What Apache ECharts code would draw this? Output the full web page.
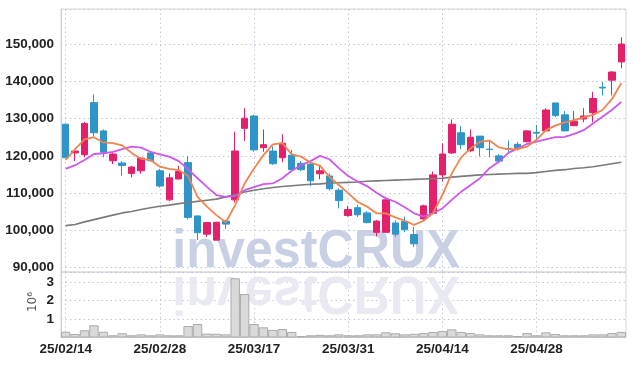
<!DOCTYPE html>
<html><head><meta charset="utf-8">
<script src="https://cdn.jsdelivr.net/npm/echarts@6/dist/echarts.min.js"></script>
<style>html,body{margin:0;padding:0;background:#fff}#c{width:634px;height:366px}</style>
</head><body><div id="c"></div>
<script>
const dates = ['25/02/14','25/02/17','25/02/18','25/02/19','25/02/20','25/02/21','25/02/24','25/02/25','25/02/26','25/02/27',
'25/02/28','25/03/04','25/03/05','25/03/06','25/03/07','25/03/10','25/03/11','25/03/12','25/03/13','25/03/14',
'25/03/17','25/03/18','25/03/19','25/03/20','25/03/21','25/03/24','25/03/25','25/03/26','25/03/27','25/03/28',
'25/03/31','25/04/01','25/04/02','25/04/03','25/04/04','25/04/07','25/04/08','25/04/09','25/04/10','25/04/11',
'25/04/14','25/04/15','25/04/16','25/04/17','25/04/18','25/04/21','25/04/22','25/04/23','25/04/24','25/04/25',
'25/04/28','25/04/29','25/04/30','25/05/02','25/05/07','25/05/08','25/05/09','25/05/12','25/05/13','25/05/14'];

const openP  = [128500,120800,120300,134300,126700,118700,118100,115300,116000,120800,
116000,108200,113800,118200,103900,99000,97400,102500,108200,127400,
130700,122200,121300,119500,120200,118000,117800,115200,114600,110800,
104000,106100,104700,99500,99500,102000,102400,98900,103100,104600,
114900,120800,126200,121400,125300,121800,120000,121900,123100,123800,
126300,126700,134200,131000,128100,129900,131600,138400,140300,145200];
const closeP = [119500,121300,128700,126200,121000,120500,117400,117000,119400,118700,
111900,114100,115800,103500,99400,102100,102200,101700,121300,130100,
121600,123000,117900,123400,116300,116300,113300,116000,111200,108000,
105600,104200,102100,102500,108200,99000,100200,96400,106600,114900,
120500,128500,123000,125000,122200,121700,118600,121800,122000,126700,
126100,132300,130800,126700,129300,130700,135400,138200,142500,150000];
const lowP   = [119400,118600,119600,125300,119600,117800,114700,114200,115200,118500,
111500,107900,113700,103000,97400,98200,97400,100400,107500,124000,
121100,121100,117600,118300,116100,115900,111900,113700,110700,105900,
103700,103600,101900,98400,99300,98300,99500,95600,102600,104400,
113100,120500,121800,121000,119800,119600,118000,121100,121400,123600,
124300,126600,130400,126700,128000,129000,129000,136200,136200,143500];
const highP  = [128600,121400,129100,136500,127100,120900,118600,117300,119600,121300,
116500,115300,117300,120000,103900,102300,102300,102800,126500,132800,
131000,127100,122500,125800,121600,118600,118000,117500,115300,111300,
106600,106900,105200,102800,109000,102700,103700,101000,106900,115800,
123400,129800,128000,127100,125300,124300,120500,124100,123800,126900,
128300,132800,134200,132000,132000,132800,137200,139800,142700,151800];

const ma5 = [118900,121800,124400,125000,123600,123400,122800,120800,119200,118900,
117100,116500,116200,114600,109000,106400,104100,102200,106800,112600,
116600,120200,123100,123400,120400,119800,118200,117400,114400,112200,
110000,107700,106400,104600,104600,103500,102600,101500,102600,104600,
109500,115300,119600,122000,123800,124100,122300,121800,121800,122500,
124300,126900,128100,129000,129600,130300,131000,132300,135200,139500];
const ma20 = [116500,117500,118900,120500,120700,121100,121800,122500,122200,121100,
120400,119800,118600,116400,114000,111700,109500,109000,109200,110800,
111600,112400,112600,114000,116000,117500,118600,120000,119100,116700,
114600,113100,111900,110100,108600,107700,106200,104600,103700,104600,
105900,108200,110400,112200,114000,116700,118400,120800,122000,123200,
123800,124400,125000,125100,125900,126900,128700,130500,132300,134500];
const maLong = [101300,101600,102300,102900,103500,104100,104700,105100,105600,106100,
106500,106800,107200,107500,107800,108100,108400,109000,109600,110300,
110800,111200,111500,111800,112000,112200,112400,112500,112700,112800,
112900,113000,113200,113300,113400,113500,113600,113700,113800,113900,
114000,114300,114500,114700,114900,115000,115100,115200,115300,115300,
115500,115800,116100,116300,116600,116800,117100,117500,117900,118300];

const volume = [310000,190000,390000,660000,310000,120000,230000,120000,170000,120000,
170000,120000,120000,620000,730000,210000,200000,170000,3200000,2350000,
730000,550000,410000,460000,300000,80000,120000,140000,120000,170000,
120000,120000,170000,170000,280000,230000,170000,200000,240000,300000,
350000,440000,300000,240000,170000,120000,120000,120000,80000,240000,
120000,280000,190000,120000,120000,120000,170000,170000,240000,300000];

const priceTicks = {min: 88850, max: 159400, step: 10000};
const volTicks = {min: 0, max: 3540000, step: 1000000, unit: 1000000, unitLabel: '10\u2076'};

const candleData = dates.map((d, i) => [openP[i], closeP[i], lowP[i], highP[i]]);
const FONT = "'Liberation Sans', Arial, sans-serif";
const WEIGHT = 'bold';
const FSIZE = 13.5;
const gridLine = {show: true, lineStyle: {type: [1.5, 3], color: '#c3c6da', width: 1}};
const everyTen = (i) => i % 10 === 0;

const chart = echarts.init(document.getElementById('c'), null, {renderer: 'canvas'});
chart.setOption({
  animation: false,
  backgroundColor: '#fff',
  grid: [
    {left: 61, right: 8, top: 9, height: 263, show: true, borderColor: '#d6d6d6', borderWidth: 1, containLabel: false, outerBoundsMode: 'none'},
    {left: 61, right: 8, top: 272, height: 65.5, show: true, borderColor: '#d6d6d6', borderWidth: 1, containLabel: false, outerBoundsMode: 'none'}
  ],
  xAxis: [
    {type: 'category', gridIndex: 0, data: dates, boundaryGap: true,
     axisLine: {show: false}, axisTick: {show: false}, axisLabel: {show: false},
     splitLine: Object.assign({interval: everyTen, alignWithLabel: true}, gridLine)},
    {type: 'category', gridIndex: 1, data: dates, boundaryGap: true,
     axisLine: {show: false}, axisTick: {show: false, alignWithLabel: true},
     axisLabel: {show: true, interval: everyTen, fontFamily: FONT, fontSize: FSIZE, fontWeight: WEIGHT, color: '#222', margin: 5},
     splitLine: Object.assign({interval: everyTen, alignWithLabel: true}, gridLine)}
  ],
  yAxis: [
    {type: 'value', gridIndex: 0, min: priceTicks.min, max: priceTicks.max,
     minInterval: priceTicks.step, maxInterval: priceTicks.step, scale: true,
     axisLine: {show: true, lineStyle: {color: '#cfcfcf'}}, axisTick: {show: false},
     axisLabel: {showMinLabel: false, showMaxLabel: false, fontFamily: FONT, fontSize: FSIZE, fontWeight: WEIGHT, color: '#222', margin: 7},
     splitLine: gridLine},
    {type: 'value', gridIndex: 1, min: volTicks.min, max: volTicks.max,
     minInterval: volTicks.step, maxInterval: volTicks.step,
     axisLine: {show: true, lineStyle: {color: '#cfcfcf'}}, axisTick: {show: false},
     axisLabel: {showMinLabel: false, showMaxLabel: false, fontFamily: FONT, fontSize: FSIZE, fontWeight: WEIGHT, color: '#222', margin: 7,
       formatter: (v) => String(v / volTicks.unit)},
     splitLine: gridLine}
  ],
  graphic: [
    {type: 'text', x: 316, y: 279, z: 1, scaleX: 0.93,
     style: {text: 'investCRUX', font: 'bold 54px "Liberation Sans", Arial, sans-serif', fill: '#c9d0e3', align: 'center', verticalAlign: 'bottom'}},
    {type: 'text', x: 316, y: 265, z: 1, scaleX: 0.93, scaleY: -1,
     style: {text: 'investCRUX', font: 'bold 54px "Liberation Sans", Arial, sans-serif', fill: '#e8e9f1', align: 'center', verticalAlign: 'bottom'}},
    {type: 'text', x: 33, y: 302, rotation: Math.PI / 2, z: 5,
     style: {text: volTicks.unitLabel, font: '12px "DejaVu Sans", sans-serif', fill: '#555', align: 'center', verticalAlign: 'middle'}}
  ],
  series: [
    {type: 'candlestick', xAxisIndex: 0, yAxisIndex: 0, data: candleData, barWidth: 7, z: 3,
     itemStyle: {color: '#e4206c', color0: '#2f95c8', borderColor: '#e4206c', borderColor0: '#2f95c8', borderWidth: 1}},
    {type: 'line', xAxisIndex: 0, yAxisIndex: 0, data: maLong, symbol: 'none', z: 4,
     lineStyle: {color: '#7a7a7a', width: 1.6}},
    {type: 'line', xAxisIndex: 0, yAxisIndex: 0, data: ma20, symbol: 'none', z: 4,
     lineStyle: {color: '#cc58ec', width: 1.8}},
    {type: 'line', xAxisIndex: 0, yAxisIndex: 0, data: ma5, symbol: 'none', z: 4,
     lineStyle: {color: '#ee8550', width: 1.8}},
    {type: 'bar', xAxisIndex: 1, yAxisIndex: 1, data: volume, barCategoryGap: '0%', z: 3,
     itemStyle: {color: 'rgba(214,214,214,0.9)', borderColor: '#ababab', borderWidth: 1}}
  ]
});
</script></body></html>
